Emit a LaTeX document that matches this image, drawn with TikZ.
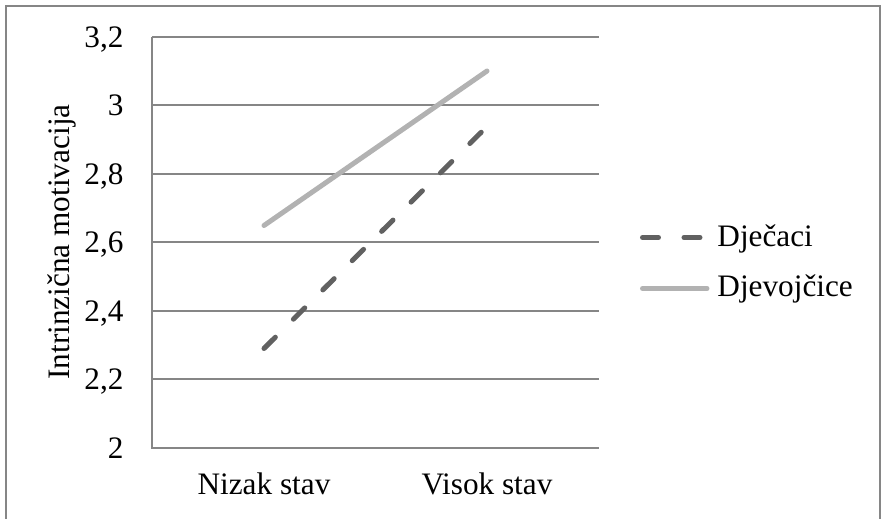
\documentclass[tikz,border=0pt]{standalone}
\usepackage{fontspec}
\setmainfont{Liberation Serif}

\begin{document}
\begin{tikzpicture}[x=0.4pt,y=-0.4pt,font=\fontsize{12.5}{15}\selectfont,
	frame/.style={draw=gray!95,line width=0.8pt},
	gridline/.style={draw=gray!95,line width=0.8pt},
	ticklabel/.style={anchor=base east,inner sep=0},
	catlabel/.style={anchor=base,inner sep=0},
	boys/.style={draw=black!62,line width=2pt,line cap=round,dash pattern=on 6.4pt off 10.2pt},
	girls/.style={draw=black!30,line width=2pt,line cap=round},
	keylabel/.style={anchor=base west,inner sep=0}]
	\useasboundingbox (0,0) rectangle (883,519);
	\draw[frame] (6,540) -- (6,6) -- (880,6) -- (880,540);
	\draw[gridline] (152,37) -- (599,37);
	\draw[gridline] (152,105.5) -- (599,105.5);
	\draw[gridline] (152,174) -- (599,174);
	\draw[gridline] (152,242.5) -- (599,242.5);
	\draw[gridline] (152,311) -- (599,311);
	\draw[gridline] (152,379.5) -- (599,379.5);
	\draw[gridline] (152,37) -- (152,448) -- (599,448);
	\node[ticklabel] (t32) at (124,47.5) {3,2};
	\node[ticklabel] (t30) at (124,116) {3};
	\node[ticklabel] (t28) at (124,184.5) {2,8};
	\node[ticklabel] (t26) at (124,253) {2,6};
	\node[ticklabel] (t24) at (124,321.5) {2,4};
	\node[ticklabel] (t22) at (124,390) {2,2};
	\node[ticklabel] (t20) at (124,458.5) {2};
	\node[catlabel] (nizak) at (264,495) {Nizak stav};
	\node[catlabel] (visok) at (487,495) {Visok stav};
	\node[rotate=90,inner sep=0] (ylab) at (62,242) {Intrinzična motivacija};
	\coordinate (1) at (264,348.5);
	\coordinate (2) at (487,126.5);
	\coordinate (3) at (264,225.5);
	\coordinate (4) at (487,71);
	\draw[boys] (1) -- (2);
	\draw[girls] (3) -- (4);
	\coordinate (k1a) at (642.5,237.5);
	\coordinate (k1b) at (702.5,237.5);
	\coordinate (k2a) at (642.5,288.5);
	\coordinate (k2b) at (707,288.5);
	\draw[boys] (k1a) -- (k1b);
	\draw[girls] (k2a) -- (k2b);
	\node[keylabel] (djecaci) at (717,247) {Dječaci};
	\node[keylabel] (djevojcice) at (717,297) {Djevojčice};
\end{tikzpicture}
\end{document}
